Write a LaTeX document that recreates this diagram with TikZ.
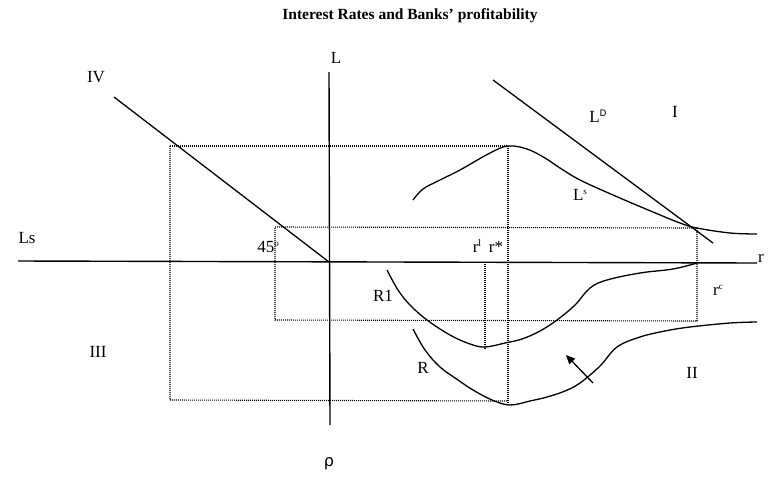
\documentclass[tikz,border=0pt]{standalone}
\usepackage{fontspec}
\setmainfont{Liberation Serif}
\newfontfamily\dvs{DejaVu Sans}
\usetikzlibrary{arrows.meta}
\begin{document}
\begin{tikzpicture}[x=1pt,y=-1pt,
  axis/.style={line width=1.4pt},
  curve/.style={line width=1.3pt,line join=round},
  guide/.style={line width=1.1pt,dash pattern=on 1pt off 1pt},
  lbl/.style={font=\fontsize{17}{17}\selectfont,inner sep=0pt}]
\useasboundingbox (0,0) rectangle (768,477);
\node[font=\bfseries\fontsize{15.5}{15.5}\selectfont] (title) at (410,16) {Interest Rates and Banks' profitability};
% dotted guides
\coordinate (a1) at (170,146); \coordinate (a2) at (508,146);
\coordinate (a3) at (508,404); \coordinate (a4) at (170,400);
\draw[guide] (a1) -- (a2) -- (a3);
\draw[guide] (a1) -- (a4) -- (508,401);
\coordinate (b1) at (275,227); \coordinate (b2) at (697,228);
\coordinate (b3) at (697,321); \coordinate (b4) at (275,320);
\draw[guide] (b1) -- (b2) -- (b3) -- (b4) -- cycle;
\coordinate (c1) at (485,262); \coordinate (c2) at (485,350);
\draw[guide] (c1) -- (c2);
% axes
\coordinate (xl) at (18,261); \coordinate (xr) at (757,263);
\coordinate (yt) at (329,72); \coordinate (yb) at (330,425);
\draw[axis] (xl) -- (xr);
\draw[axis] (yt) -- (yb);
% 45 degree line
\coordinate (iv1) at (114,97); \coordinate (o) at (329,262);
\draw[curve] (iv1) -- (o);
% L^D
\coordinate (ld1) at (493,80); \coordinate (ld2) at (713,243);
\draw[curve] (ld1) -- (ld2);
% L^s
\draw[curve] plot[smooth,tension=0.6] coordinates {(413,200) (423,189) (440,180) (460,170) (490,153) (508,146) (527,149) (545,158) (560,168) (580,180) (613,195) (653,212) (680,223) (697,228) (730,233) (757,234)};
% R1
\draw[curve] plot[smooth,tension=0.6] coordinates {(387,270) (398,290) (410,305) (427,320) (450,335) (470,344) (485,347) (505,343) (522,339) (540,331) (557,320) (575,305) (590,288) (607,280) (640,273) (673,269) (697,263)};
% R
\draw[curve] plot[smooth,tension=0.6] coordinates {(413,329) (425,350) (440,367) (458,380) (473,390) (492,400) (510,405) (530,401) (547,397) (565,391) (580,383) (600,366) (617,347) (640,337) (665,331) (690,327) (730,323) (757,322)};
% arrow
\coordinate (ar1) at (593,383); \coordinate (ar2) at (566,355);
\draw[line width=1.3pt,-{Triangle[length=9pt,width=8pt]}] (ar1) -- (ar2);
% labels
\node[lbl] (lL) at (336,58) {L};
\node[lbl] (lIV) at (96,77) {IV};
\node[lbl] (lLs) at (27,238) {Ls};
\node[lbl] (l45) at (268,247) {45\raisebox{6pt}{\fontsize{9}{9}\selectfont o}};
\node[lbl] (lrl) at (477,246) {r\raisebox{6pt}{\fontsize{10}{10}\selectfont l}};
\node[lbl] (lrs) at (496,247) {r*};
\node[lbl] (lr) at (761,258) {r};
\node[lbl] (lLD) at (598,116) {L\raisebox{6pt}{\dvs\fontsize{9}{9}\selectfont D}};
\node[lbl] (lI) at (675,112) {I};
\node[lbl] (lLsup) at (580,195) {L\raisebox{6pt}{\fontsize{9}{9}\selectfont s}};
\node[lbl] (lrc) at (718,290) {r\raisebox{6pt}{\fontsize{9}{9}\selectfont c}};
\node[lbl] (lR1) at (383,296) {R1};
\node[lbl] (lR) at (423,368) {R};
\node[lbl] (lIII) at (98,352) {III};
\node[lbl] (lII) at (692,373) {II};
\node[lbl,font=\dvs\fontsize{16}{16}\selectfont] (lrho) at (329,464) {ρ};
\end{tikzpicture}
\end{document}
